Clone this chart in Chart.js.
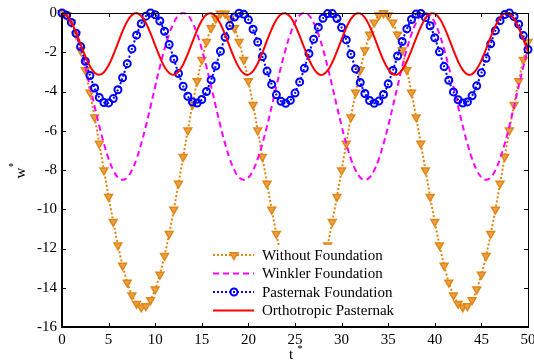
<!DOCTYPE html>
<html>
<head>
<meta charset="utf-8">
<script src="https://cdn.jsdelivr.net/npm/chart.js@4/dist/chart.umd.min.js"></script>
<style>
  html, body { margin: 0; padding: 0; background: #fff; }
  #wrap { width: 534px; height: 362px; }
</style>
</head>
<body>
<div id="wrap"><canvas id="chart-w" width="534" height="362"></canvas></div>
<script>
// time samples t*
const tValues = [
  0, 0.5, 1, 1.5, 2, 2.5, 3, 3.5, 4, 4.5, 5, 5.5, 6, 6.5, 7, 7.5, 8, 8.5, 9, 9.5,
  10, 10.5, 11, 11.5, 12, 12.5, 13, 13.5, 14, 14.5, 15, 15.5, 16, 16.5, 17, 17.5, 18, 18.5, 19, 19.5,
  20, 20.5, 21, 21.5, 22, 22.5, 23, 23.5, 24, 24.5, 25, 25.5, 26, 26.5, 27, 27.5, 28, 28.5, 29, 29.5,
  30, 30.5, 31, 31.5, 32, 32.5, 33, 33.5, 34, 34.5, 35, 35.5, 36, 36.5, 37, 37.5, 38, 38.5, 39, 39.5,
  40, 40.5, 41, 41.5, 42, 42.5, 43, 43.5, 44, 44.5, 45, 45.5, 46, 46.5, 47, 47.5, 48, 48.5, 49, 49.5, 50
];

// w* values
const withoutFoundation = [
  0, -0.12, -0.49, -1.09, -1.90, -2.90, -4.05, -5.31, -6.65, -8.01, -9.36, -10.64, -11.83, -12.87, -13.73, -14.38, -14.81, -14.99, -14.93, -14.62,
  -14.08, -13.32, -12.37, -11.25, -10.01, -8.69, -7.33, -5.98, -4.67, -3.46, -2.38, -1.47, -0.77, -0.28, -0.03,
  -0.03, -0.28, -0.77, -1.47, -2.38, -3.46, -4.67, -5.98, -7.33, -8.69, -10.01, -11.25, -12.37, -13.32, -14.08, -14.62, -14.93, -14.99, -14.81, -14.38,
  -13.73, -12.87, -11.83, -10.64, -9.36, -8.01, -6.65, -5.31, -4.05, -2.90, -1.90, -1.09, -0.49, -0.12,
  0, -0.12, -0.49, -1.09, -1.90, -2.90, -4.05, -5.31, -6.65, -8.01, -9.36, -10.64, -11.83, -12.87, -13.73, -14.38, -14.81, -14.99, -14.93, -14.62,
  -14.08, -13.32, -12.37, -11.25, -10.01, -8.69, -7.33, -5.98, -4.67, -3.46, -2.38, -1.47
];

const winklerFoundation = [
  0, -0.12, -0.49, -1.07, -1.84, -2.74, -3.74, -4.76, -5.76, -6.66, -7.43, -8.01, -8.38, -8.5, -8.38, -8.01, -7.43, -6.66, -5.76, -4.76, -3.74, -2.74, -1.84, -1.07, -0.49, -0.12,
  0, -0.12, -0.49, -1.07, -1.84, -2.74, -3.74, -4.76, -5.76, -6.66, -7.43, -8.01, -8.38, -8.5, -8.38, -8.01, -7.43, -6.66, -5.76, -4.76, -3.74, -2.74, -1.84, -1.07, -0.49, -0.12,
  0, -0.12, -0.49, -1.07, -1.84, -2.74, -3.74, -4.76, -5.76, -6.66, -7.43, -8.01, -8.38, -8.5, -8.38, -8.01, -7.43, -6.66, -5.76, -4.76, -3.74, -2.74, -1.84, -1.07, -0.49, -0.12,
  0, -0.12, -0.49, -1.07, -1.84, -2.74, -3.74, -4.76, -5.76, -6.66, -7.43, -8.01, -8.38, -8.5, -8.38, -8.01, -7.43, -6.66, -5.76, -4.76, -3.74, -2.74, -1.84
];

const pasternakFoundation = [
  0, -0.12, -0.48, -1.03, -1.71, -2.46, -3.19, -3.82, -4.30, -4.56, -4.58, -4.36, -3.91, -3.30, -2.58, -1.83, -1.13, -0.55, -0.16, 0,
  -0.09, -0.41, -0.93, -1.60, -2.34, -3.08, -3.73, -4.24, -4.53, -4.59, -4.41, -4.00, -3.41, -2.70, -1.95, -1.23, -0.64, -0.21, -0.01,
  -0.06, -0.34, -0.83, -1.48, -2.22, -2.96, -3.64, -4.17, -4.50, -4.60, -4.45, -4.08, -3.51, -2.82, -2.07, -1.34, -0.72, -0.27, -0.03,
  -0.03, -0.28, -0.74, -1.37, -2.10, -2.85, -3.54, -4.10, -4.46, -4.60, -4.49, -4.15, -3.61, -2.93, -2.19, -1.45, -0.81, -0.33, -0.05,
  -0.02, -0.23, -0.65, -1.26, -1.98, -2.73, -3.43, -4.02, -4.42, -4.59, -4.53, -4.22, -3.71, -3.05, -2.31, -1.57, -0.90, -0.39, -0.08,
  0, -0.18, -0.57, -1.15, -1.86
];

const orthotropicPasternak = [
  0, -0.12, -0.47, -0.98, -1.59, -2.20, -2.71, -3.04, -3.15, -3.02, -2.66, -2.14, -1.53, -0.93, -0.42, -0.10, 0,
  -0.15, -0.51, -1.04, -1.65, -2.25, -2.75, -3.06, -3.15, -2.99, -2.62, -2.08, -1.47, -0.87, -0.38, -0.08, -0.01,
  -0.17, -0.56, -1.10, -1.72, -2.31, -2.79, -3.08, -3.14, -2.96, -2.57, -2.02, -1.40, -0.82, -0.34, -0.06, -0.01,
  -0.20, -0.61, -1.16, -1.78, -2.36, -2.83, -3.10, -3.14, -2.93, -2.52, -1.96, -1.34, -0.76, -0.30, -0.04, -0.02,
  -0.24, -0.66, -1.22, -1.84, -2.42, -2.86, -3.11, -3.13, -2.90, -2.47, -1.90, -1.28, -0.71, -0.27, -0.03,
  -0.03, -0.27, -0.71, -1.28, -1.90, -2.47, -2.90, -3.13, -3.11, -2.86, -2.42, -1.84, -1.22, -0.66, -0.24, -0.02,
  -0.04, -0.30, -0.76, -1.34, -1.96
];

const seriesNames = ['Without Foundation', 'Winkler Foundation', 'Pasternak Foundation', 'Orthotropic Pasternak'];
const xTicks = [0, 5, 10, 15, 20, 25, 30, 35, 40, 45, 50];
const yTicks = [0, -2, -4, -6, -8, -10, -12, -14, -16];

const ORANGE = 'rgb(226,134,22)';
const FONT = '"Liberation Serif", "Times New Roman", serif';

function toPoints(arr) {
    return arr.map((v, i) => ({ x: tValues[i], y: v }));
}

// white legend box drawn inside the plot, like the original
const legendPlugin = {
    id: 'boxLegend',
    afterDatasetsDraw(chart) {
        const ctx = chart.ctx;
        ctx.save();
        ctx.fillStyle = '#ffffff';
        ctx.fillRect(207, 245, 214, 78);
        chart.data.datasets.forEach((ds, i) => {
            const y = 255 + i * 18.5;
            ctx.strokeStyle = ds.borderColor;
            ctx.lineWidth = ds.borderWidth;
            ctx.setLineDash(ds.borderDash || []);
            ctx.beginPath();
            ctx.moveTo(213, y);
            ctx.lineTo(254, y);
            ctx.stroke();
            ctx.setLineDash([]);
            if (ds.pointRadius > 0) {
                ctx.fillStyle = ds.pointBackgroundColor;
                ctx.strokeStyle = ds.pointBorderColor;
                ctx.lineWidth = ds.pointBorderWidth;
                Chart.helpers.drawPoint(ctx, {
                    pointStyle: ds.pointStyle,
                    radius: ds.pointRadius,
                    rotation: ds.pointRotation || 0,
                    borderWidth: ds.pointBorderWidth
                }, 234, y);
            }
            ctx.fillStyle = '#000';
            ctx.font = '15px ' + FONT;
            ctx.textBaseline = 'middle';
            ctx.textAlign = 'left';
            ctx.fillText(seriesNames[i], 262, y + 1);
        });
        ctx.restore();
    }
};

// box round the plot with inward ticks on all four sides, plus axis titles
const framePlugin = {
    id: 'frame',
    afterDraw(chart) {
        const ctx = chart.ctx;
        const a = chart.chartArea;
        const xs = chart.scales.x, ys = chart.scales.y;
        ctx.save();
        ctx.strokeStyle = '#000';
        ctx.lineWidth = 1;
        ctx.beginPath();
        ctx.moveTo(a.left, a.top + 0.5);
        ctx.lineTo(a.right + 0.5, a.top + 0.5);
        ctx.lineTo(a.right + 0.5, a.bottom);
        ctx.stroke();
        ctx.lineWidth = 2;
        ctx.beginPath();
        ctx.moveTo(a.left, a.top);
        ctx.lineTo(a.left, a.bottom);
        ctx.lineTo(a.right + 1, a.bottom);
        ctx.stroke();

        ctx.lineWidth = 1;
        ctx.beginPath();
        xTicks.forEach(v => {
            const px = Math.round(xs.getPixelForValue(v)) + 0.5;
            ctx.moveTo(px, a.bottom); ctx.lineTo(px, a.bottom - 4);
            ctx.moveTo(px, a.top); ctx.lineTo(px, a.top + 4);
        });
        yTicks.forEach(v => {
            const py = Math.round(ys.getPixelForValue(v)) + 0.5;
            ctx.moveTo(a.left, py); ctx.lineTo(a.left + 4, py);
            ctx.moveTo(a.right, py); ctx.lineTo(a.right - 4, py);
        });
        ctx.stroke();

        ctx.fillStyle = '#000';
        ctx.textAlign = 'center';
        ctx.textBaseline = 'middle';
        // w* (rotated)
        ctx.save();
        ctx.translate(21, 173);
        ctx.rotate(-Math.PI / 2);
        ctx.font = '15px ' + FONT;
        ctx.fillText('w', 0, 0);
        ctx.restore();
        ctx.font = '11px ' + FONT;
        ctx.fillText('*', 11, 167);
        // t*
        ctx.font = '15px ' + FONT;
        ctx.fillText('t', 291, 355);
        ctx.font = '11px ' + FONT;
        ctx.fillText('*', 300, 349);
        ctx.restore();
    }
};

var ctxW = document.getElementById('chart-w').getContext('2d');
var chart_w = new Chart(ctxW, {
    type: 'line',
    data: {
        datasets: [{
            label: seriesNames[0],
            data: toPoints(withoutFoundation),
            borderColor: ORANGE,
            borderWidth: 2,
            borderDash: [2, 2],
            pointStyle: 'triangle',
            pointRotation: 180,
            pointRadius: 4.5,
            pointBorderWidth: 1.5,
            pointBackgroundColor: 'rgb(234,160,72)',
            pointBorderColor: ORANGE,
            tension: 0.3,
            order: 4
        }, {
            label: seriesNames[1],
            data: toPoints(winklerFoundation),
            borderColor: '#ff00ff',
            borderWidth: 2,
            borderDash: [6, 4],
            pointRadius: 0,
            tension: 0.4,
            order: 3
        }, {
            label: seriesNames[2],
            data: toPoints(pasternakFoundation),
            borderColor: '#0000ff',
            borderWidth: 2,
            borderDash: [2, 2],
            pointStyle: 'circle',
            pointRadius: 3.5,
            pointBorderWidth: 2,
            pointBackgroundColor: 'rgba(255,255,255,0)',
            pointBorderColor: '#0000ff',
            tension: 0.3,
            order: 2
        }, {
            label: seriesNames[3],
            data: toPoints(orthotropicPasternak),
            borderColor: '#ff0000',
            borderWidth: 2,
            pointRadius: 0,
            tension: 0.4,
            order: 1
        }]
    },
    options: {
        responsive: false,
        devicePixelRatio: 1,
        animation: false,
        clip: false,
        layout: { padding: { top: 13, right: 6, left: 0, bottom: 0 } },
        plugins: { legend: { display: false }, tooltip: { enabled: false } },
        elements: { line: { fill: false } },
        scales: {
            x: {
                type: 'linear',
                min: 0,
                max: 50,
                grid: { display: false, drawTicks: false },
                border: { display: false },
                afterBuildTicks: s => { s.ticks = xTicks.map(v => ({ value: v })); },
                ticks: { padding: 4, color: '#000', font: { family: FONT, size: 15 }, maxRotation: 0 },
                afterFit: s => { s.height = 35; s.paddingLeft = 0; s.paddingRight = 0; }
            },
            y: {
                min: -16,
                max: 0,
                grid: { display: false, drawTicks: false },
                border: { display: false },
                afterBuildTicks: s => { s.ticks = yTicks.map(v => ({ value: v })); },
                ticks: { padding: 5, color: '#000', font: { family: FONT, size: 15 } },
                afterFit: s => { s.width = 62; s.paddingTop = 0; s.paddingBottom = 0; }
            }
        }
    },
    plugins: [legendPlugin, framePlugin]
});
</script>
</body>
</html>
